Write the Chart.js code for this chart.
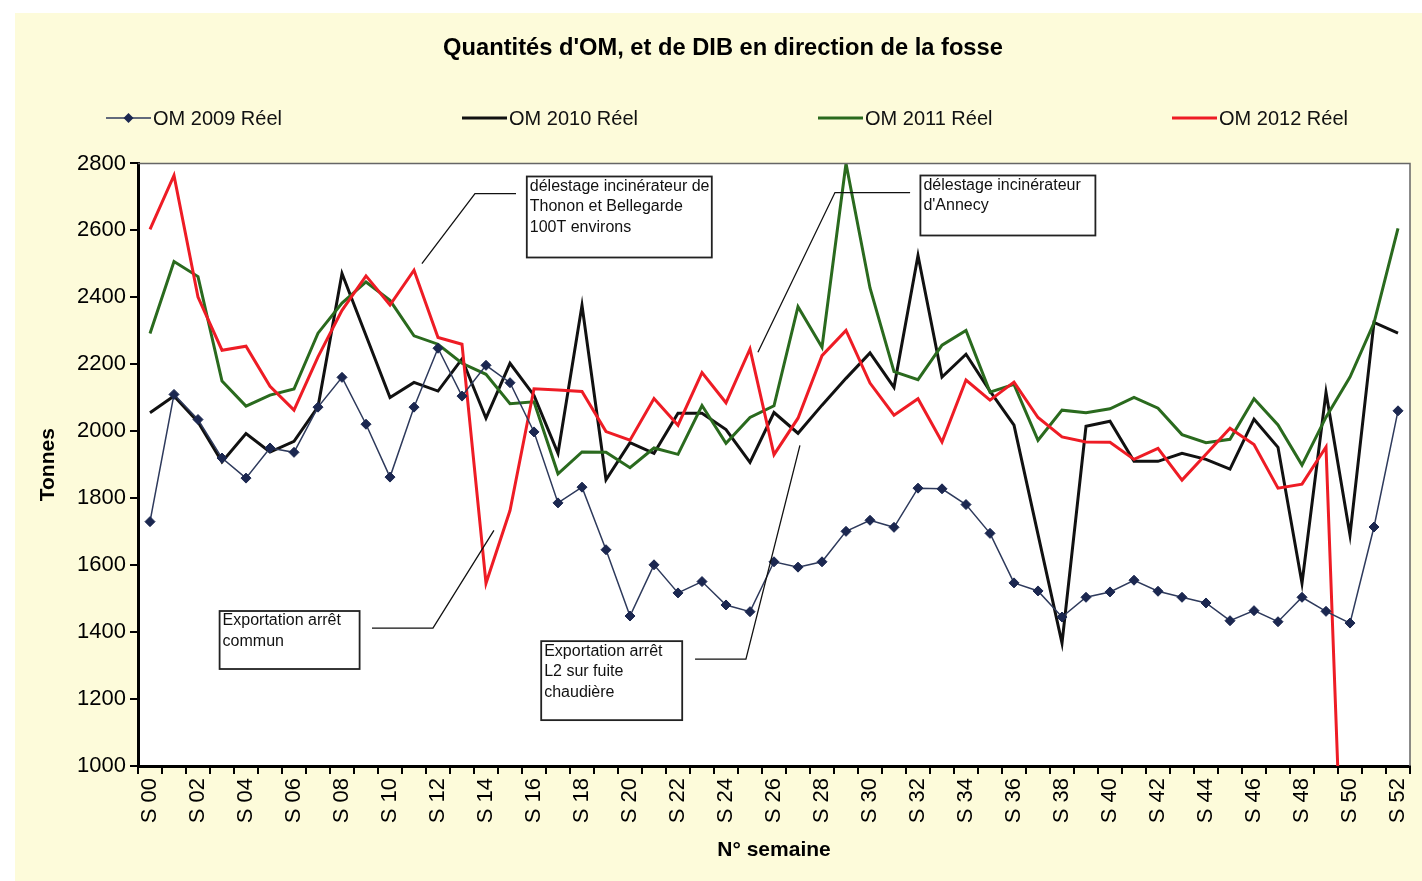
<!DOCTYPE html>
<html lang="fr">
<head>
<meta charset="utf-8">
<title>Quantités d'OM, et de DIB en direction de la fosse</title>
<script src="https://cdn.jsdelivr.net/npm/chart.js@4.4.1/dist/chart.umd.min.js"></script>
<style>
    html, body { margin: 0; padding: 0; background: #fff; }
    canvas { display: block; }
</style>
</head>
<body>
<canvas id="myChart" width="1422" height="881"></canvas>
<script>
const weeks = [
    'S 00', 'S 01', 'S 02', 'S 03', 'S 04', 'S 05', 'S 06', 'S 07', 'S 08', 'S 09',
    'S 10', 'S 11', 'S 12', 'S 13', 'S 14', 'S 15', 'S 16', 'S 17', 'S 18', 'S 19',
    'S 20', 'S 21', 'S 22', 'S 23', 'S 24', 'S 25', 'S 26', 'S 27', 'S 28', 'S 29',
    'S 30', 'S 31', 'S 32', 'S 33', 'S 34', 'S 35', 'S 36', 'S 37', 'S 38', 'S 39',
    'S 40', 'S 41', 'S 42', 'S 43', 'S 44', 'S 45', 'S 46', 'S 47', 'S 48', 'S 49',
    'S 50', 'S 51', 'S 52'
];

const om2009 = [1730, 2110, 2035, 1920, 1860, 1950, 1937, 2072, 2161, 2021,
    1863, 2072, 2248, 2105, 2197, 2145, 1998, 1786, 1833, 1646,
    1448, 1601, 1517, 1551, 1481, 1461, 1610, 1594, 1610, 1701,
    1734, 1713, 1830, 1828, 1781, 1695, 1547, 1523, 1445, 1504,
    1520, 1555, 1522, 1504, 1487, 1434, 1464, 1431, 1504, 1462,
    1427, 1714, 2061];

const om2010 = [2055, 2105, 2028, 1908, 1993, 1938, 1970, 2073, 2471, 2286,
    2101, 2146, 2120, 2216, 2039, 2203, 2107, 1934, 2376, 1855,
    1966, 1934, 2054, 2054, 2005, 1907, 2056, 1994, 2078, 2158,
    2234, 2131, 2525, 2162, 2230, 2120, 2018, 1692, 1367, 2015,
    2030, 1910, 1910, 1934, 1916, 1887, 2036, 1952, 1546, 2116,
    1690, 2325, 2293];

const om2011 = [2292, 2507, 2462, 2150, 2075, 2108, 2126, 2293, 2383, 2446,
    2391, 2285, 2260, 2203, 2170, 2082, 2088, 1873, 1938, 1937,
    1891, 1950, 1931, 2077, 1964, 2041, 2076, 2372, 2251, 2800,
    2428, 2178, 2154, 2257, 2301, 2117, 2140, 1973, 2063, 2055,
    2067, 2101, 2069, 1990, 1966, 1976, 2097, 2019, 1899, 2042,
    2162, 2324, 2606];

const om2012 = [2603, 2764, 2401, 2242, 2254, 2134, 2063, 2222, 2361, 2464,
    2377, 2481, 2280, 2260, 1546, 1763, 2127, 2123, 2119, 1999,
    1973, 2098, 2018, 2175, 2085, 2246, 1930, 2039, 2226, 2301,
    2144, 2048, 2097, 1968, 2153, 2093, 2147, 2041, 1983, 1968,
    1967, 1916, 1949, 1854, 1931, 2009, 1960, 1830, 1842, 1953,
    0, null, null];

// boxes: top-left corner in (week index, tonnes), size in px
const noteTexts = [
    ['délestage incinérateur de', 'Thonon et Bellegarde', '100T environs'],
    ['délestage incinérateur', "d'Annecy"],
    ['Exportation arrêt', 'commun'],
    ['Exportation arrêt', 'L2 sur fuite', 'chaudière']
];
const noteAnchors = [[15.7, 2761], [32.1, 2764], [2.9, 1463], [16.3, 1373]];
const noteSizes = [[185, 81], [175, 60], [140, 58], [141, 79]];
const leaders = [
    [[15.25, 2710], [13.54, 2710], [11.33, 2501]],
    [[31.67, 2713], [28.54, 2713], [25.33, 2236]],
    [[9.25, 1412], [11.79, 1412], [14.33, 1704]],
    [[22.71, 1319], [24.83, 1319], [27.08, 1958]]
];

const FONT = "'Liberation Sans', Arial, sans-serif";

const pageBackground = {
    id: 'pageBackground',
    beforeDraw(chart) {
        const {ctx, width, height, chartArea} = chart;
        ctx.save();
        ctx.fillStyle = '#ffffff';
        ctx.fillRect(0, 0, width, height);
        ctx.fillStyle = '#fdfbda';
        ctx.fillRect(15, 13, width - 15, height - 13);
        ctx.fillStyle = '#ffffff';
        ctx.fillRect(chartArea.left, chartArea.top, chartArea.right - chartArea.left, chartArea.bottom - chartArea.top);
        ctx.restore();
    },
    afterDraw(chart) {
        const {ctx, chartArea} = chart;
        ctx.save();
        ctx.strokeStyle = '#666';
        ctx.lineWidth = 1.5;
        ctx.beginPath();
        ctx.moveTo(chartArea.left, chartArea.top);
        ctx.lineTo(chartArea.right, chartArea.top);
        ctx.lineTo(chartArea.right, chartArea.bottom);
        ctx.stroke();
        ctx.restore();
    }
};

// legend spread over the width, like the original
const spreadLegend = {
    id: 'spreadLegend',
    afterDraw(chart) {
        const {ctx} = chart;
        const starts = [106, 462, 818, 1172];
        const y = 118;
        ctx.save();
        chart.data.datasets.forEach((ds, i) => {
            const x = starts[i];
            ctx.strokeStyle = ds.borderColor;
            ctx.lineWidth = ds.borderWidth;
            ctx.beginPath();
            ctx.moveTo(x, y);
            ctx.lineTo(x + 45, y);
            ctx.stroke();
            if (ds.pointRadius > 0) {
                const r = 5;
                ctx.fillStyle = ds.pointBackgroundColor;
                ctx.beginPath();
                ctx.moveTo(x + 22.5, y - r);
                ctx.lineTo(x + 22.5 + r, y);
                ctx.lineTo(x + 22.5, y + r);
                ctx.lineTo(x + 22.5 - r, y);
                ctx.closePath();
                ctx.fill();
            }
            ctx.fillStyle = '#111';
            ctx.font = '20px ' + FONT;
            ctx.textBaseline = 'middle';
            ctx.fillText(ds.label, x + 47, y + 1);
        });
        ctx.restore();
    }
};

const notes = {
    id: 'notes',
    afterDatasetsDraw(chart) {
        const {ctx} = chart;
        const xs = chart.scales.x;
        const ys = chart.scales.y;
        ctx.save();
        ctx.strokeStyle = '#111';
        ctx.lineWidth = 1.3;
        for (let path of leaders) {
            ctx.beginPath();
            path.forEach((p, j) => {
                const px = xs.getPixelForValue(p[0]);
                const py = ys.getPixelForValue(p[1]);
                if (j === 0) ctx.moveTo(px, py); else ctx.lineTo(px, py);
            });
            ctx.stroke();
        }
        ctx.font = '16px ' + FONT;
        ctx.textBaseline = 'top';
        noteTexts.forEach((lines, i) => {
            const left = xs.getPixelForValue(noteAnchors[i][0]);
            const top = ys.getPixelForValue(noteAnchors[i][1]);
            const [w, h] = noteSizes[i];
            ctx.fillStyle = '#fff';
            ctx.fillRect(left, top, w, h);
            ctx.lineWidth = 1.8;
            ctx.strokeStyle = '#222';
            ctx.strokeRect(left, top, w, h);
            ctx.fillStyle = '#111';
            lines.forEach((t, k) => ctx.fillText(t, left + 3, top + 2 + k * 20.5));
        });
        ctx.restore();
    }
};

const data = {
    labels: weeks,
    datasets: [
        {
            label: 'OM 2009 Réel',
            data: om2009,
            borderColor: '#2e3a5c',
            borderWidth: 1.5,
            pointStyle: 'rectRot',
            pointRadius: 5,
            pointBackgroundColor: '#1b2750',
            pointBorderColor: '#1b2750',
            pointBorderWidth: 1,
            order: 0
        },
        {
            label: 'OM 2010 Réel',
            data: om2010,
            borderColor: '#111111',
            borderWidth: 3,
            pointRadius: 0,
            order: 3
        },
        {
            label: 'OM 2011 Réel',
            data: om2011,
            borderColor: '#2a6a1e',
            borderWidth: 3,
            pointRadius: 0,
            order: 2
        },
        {
            label: 'OM 2012 Réel',
            data: om2012,
            borderColor: '#ee1c25',
            borderWidth: 3,
            pointRadius: 0,
            order: 1
        }
    ]
};

const config = {
    type: 'line',
    data: data,
    options: {
        responsive: false,
        animation: false,
        devicePixelRatio: 1,
        layout: { padding: { left: 36, right: 12, top: 0, bottom: 0 } },
        plugins: {
            legend: { display: false },
            tooltip: { enabled: false },
            title: {
                display: true,
                text: "Quantités d'OM, et de DIB en direction de la fosse",
                color: '#000',
                font: { family: FONT, size: 23.7, weight: 'bold' },
                padding: { top: 34, bottom: 101 }
            }
        },
        scales: {
            x: {
                offset: true,
                grid: {
                    offset: true,
                    drawOnChartArea: false,
                    tickLength: 8,
                    color: '#000',
                    lineWidth: 2
                },
                border: { color: '#000', width: 3 },
                ticks: {
                    autoSkip: false,
                    maxRotation: 90,
                    minRotation: 90,
                    padding: 4,
                    color: '#000',
                    font: { family: FONT, size: 22 },
                    callback: (v, i) => (i % 2 === 0 ? weeks[i] : '')
                },
                title: {
                    display: true,
                    text: 'N° semaine',
                    color: '#000',
                    font: { family: FONT, size: 21, weight: 'bold' },
                    padding: { top: 0, bottom: 18 }
                },
                afterFit: (s) => {
                    s.height = 115;
                    s.paddingLeft = 0;
                    s.paddingRight = 0;
                }
            },
            y: {
                min: 1000,
                max: 2800,
                grid: {
                    drawOnChartArea: false,
                    tickLength: 8,
                    color: '#000',
                    lineWidth: 2
                },
                border: { color: '#000', width: 3 },
                ticks: {
                    stepSize: 200,
                    padding: 4,
                    color: '#000',
                    font: { family: FONT, size: 22 },
                    callback: (v) => String(v)
                },
                title: {
                    display: true,
                    text: 'Tonnes',
                    color: '#000',
                    font: { family: FONT, size: 21, weight: 'bold' },
                    padding: { top: 0, bottom: 0 }
                },
                afterFit: (s) => { s.width = 102; }
            }
        }
    },
    plugins: [pageBackground, notes, spreadLegend]
};

const myChart = new Chart(document.getElementById('myChart'), config);
</script>
</body>
</html>
